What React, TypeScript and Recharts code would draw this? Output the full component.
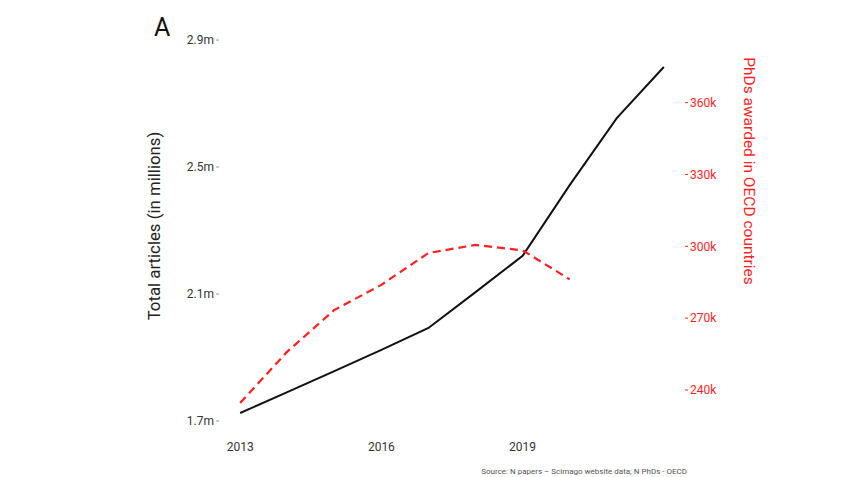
import { LineChart, Line, XAxis, YAxis } from 'recharts';

const years = [2013, 2014, 2015, 2016, 2017, 2018, 2019, 2020, 2021, 2022];
// total articles, millions
const articles = [1.725, 1.791, 1.857, 1.924, 1.993, 2.106, 2.22, 2.443, 2.654, 2.815];
// PhDs awarded in OECD countries, thousands
const phds = [234.6, 256, 273.4, 283.9, 297.2, 300.6, 298.3, 286.2, null, null];

const xTicks = [2013, 2016, 2019];
const leftTicks = [1.7, 2.1, 2.5, 2.9];
const rightTicks = [240, 270, 300, 330, 360];

const RED = '#ff1f1f';
const FONT = 'Roboto, "Noto Sans", sans-serif';

const data = years.map((year, i) => ({
  year,
  articles: articles[i],
  phds: phds[i],
}));

export default function App() {
  return (
    <div
      style={{
        position: 'fixed',
        left: 0,
        top: 0,
        width: 867,
        height: 477,
        background: '#fff',
        fontFamily: FONT,
      }}
    >
      <LineChart
        width={867}
        height={477}
        data={data}
        margin={{ top: 21, right: 122, bottom: 7, left: 159 }}
      >
        <XAxis
          dataKey="year"
          type="number"
          domain={[2012.55, 2022.45]}
          ticks={xTicks}
          axisLine={false}
          tickLine={false}
          tickSize={0}
          tickMargin={2}
          height={30}
          tick={{ fill: '#333', fontSize: 12, fontFamily: FONT }}
        />
        <YAxis
          yAxisId="left"
          orientation="left"
          width={60}
          domain={[1.64, 2.96]}
          ticks={leftTicks}
          tickFormatter={(v: number) => `${v}m`}
          axisLine={false}
          tickSize={3}
          tickMargin={2}
          tickLine={{ stroke: '#999' }}
          tick={{ fill: '#333', fontSize: 12, fontFamily: FONT }}
        />
        <YAxis
          yAxisId="right"
          orientation="right"
          width={60}
          domain={[219.1, 394.1]}
          ticks={rightTicks}
          tickFormatter={(v: number) => `${v}k`}
          axisLine={false}
          tickSize={3}
          tickMargin={2}
          tickLine={{ stroke: RED }}
          tick={{ fill: RED, fontSize: 12, fontFamily: FONT }}
        />
        <Line
          yAxisId="left"
          dataKey="articles"
          type="linear"
          stroke="#111"
          strokeWidth={2}
          dot={false}
          isAnimationActive={false}
        />
        <Line
          yAxisId="right"
          dataKey="phds"
          type="linear"
          stroke={RED}
          strokeWidth={2.2}
          strokeDasharray="8 5"
          dot={false}
          connectNulls={false}
          isAnimationActive={false}
        />
      </LineChart>

      <div style={{ position: 'absolute', left: 154, top: 13, fontSize: 25, color: '#111' }}>A</div>

      <div
        style={{
          position: 'absolute',
          left: 154,
          top: 226,
          transform: 'translate(-50%, -50%) rotate(-90deg)',
          whiteSpace: 'nowrap',
          fontSize: 16.8,
          color: '#222',
        }}
      >
        Total articles (in millions)
      </div>

      <div
        style={{
          position: 'absolute',
          left: 749,
          top: 171,
          transform: 'translate(-50%, -50%) rotate(90deg)',
          whiteSpace: 'nowrap',
          fontSize: 15.5,
          color: RED,
        }}
      >
        PhDs awarded in OECD countries
      </div>

      <div
        style={{
          position: 'absolute',
          right: 867 - 687,
          top: 467,
          whiteSpace: 'nowrap',
          fontSize: 8,
          color: '#555',
        }}
      >
        Source: N papers – Scimago website data; N PhDs - OECD
      </div>
    </div>
  );
}
